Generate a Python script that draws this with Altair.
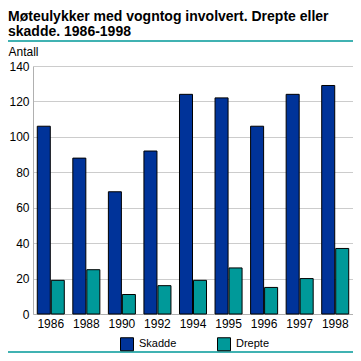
import altair as alt
import pandas as pd

years = ["1986", "1988", "1990", "1992", "1994", "1995", "1996", "1997", "1998"]
skadde = [106, 88, 69, 92, 124, 122, 106, 124, 129]
drepte = [19, 25, 11, 16, 19, 26, 15, 20, 37]
series = ["Skadde", "Drepte"]
colors = ["#003399", "#009999"]
y_ticks = [0, 20, 40, 60, 80, 100, 120, 140]
title_lines = ["Møteulykker med vogntog involvert. Drepte eller", "skadde. 1986-1998"]

rows = []
for i, yr in enumerate(years):
    rows.append({"year": yr, "serie": "Skadde", "value": skadde[i]})
    rows.append({"year": yr, "serie": "Drepte", "value": drepte[i]})
df = pd.DataFrame(rows)

FONT = "Liberation Sans"
LEFT = 25  # padding left; view starts at page x 33
TOP = 58   # view starts at page y 66

bars = alt.Chart(df).mark_bar(stroke="black", strokeWidth=1).encode(
    x=alt.X("year:N", sort=years, title=None,
            scale=alt.Scale(paddingInner=0.24, paddingOuter=0.12),
            axis=alt.Axis(labelAngle=0, ticks=False, domainColor="#b0b0b0",
                          labelFont=FONT, labelFontSize=12, labelColor="black",
                          labelPadding=4)),
    xOffset=alt.XOffset("serie:N", sort=series, scale=alt.Scale(paddingInner=0.07)),
    y=alt.Y("value:Q", title="Antall",
            scale=alt.Scale(domain=[0, 140]),
            axis=alt.Axis(values=y_ticks, ticks=False, domainColor="#b0b0b0",
                          gridColor="#cccccc", labelFont=FONT, labelFontSize=12,
                          labelColor="black", labelPadding=4,
                          titleAngle=0, titleAlign="left", titleBaseline="alphabetic",
                          titleX=-LEFT, titleY=-11, titleFont=FONT, titleFontSize=12,
                          titleFontWeight="normal", titleColor="black")),
    color=alt.Color("serie:N", sort=series,
                    scale=alt.Scale(domain=series, range=colors),
                    legend=alt.Legend(title=None, orient="none", direction="horizontal",
                                      legendX=87, legendY=271, padding=0,
                                      symbolType="square", symbolSize=169,
                                      symbolStrokeColor="black", symbolStrokeWidth=1,
                                      symbolOpacity=1,
                                      labelFont=FONT, labelFontSize=11, labelColor="black",
                                      labelOffset=5, columnPadding=38)),
)

line_data = alt.Data(values=[{"a": 1}])
top_line = alt.Chart(line_data).mark_rule(color="#009999", strokeWidth=1.5).encode(
    x=alt.value(-LEFT), x2=alt.value(320), y=alt.value(-25))
bottom_line = alt.Chart(line_data).mark_rule(color="#009999", strokeWidth=1.5).encode(
    x=alt.value(-LEFT), x2=alt.value(320), y=alt.value(286))

title1 = alt.Chart(line_data).mark_text(
    align="left", baseline="alphabetic", font=FONT, fontSize=14, fontWeight="bold",
    color="black").encode(x=alt.value(-LEFT), y=alt.value(-45), text=alt.value(title_lines[0]))
title2 = alt.Chart(line_data).mark_text(
    align="left", baseline="alphabetic", font=FONT, fontSize=14, fontWeight="bold",
    color="black").encode(x=alt.value(-LEFT), y=alt.value(-30), text=alt.value(title_lines[1]))

chart = alt.layer(bars, top_line, bottom_line, title1, title2).properties(
    width=320, height=248,
    autosize=alt.AutoSizeParams(type="none"),
    padding={"left": LEFT, "top": TOP, "right": 0, "bottom": 39},
).configure_view(stroke=None)

chart.save("out.html", embed_options={"renderer": "svg", "actions": False})
